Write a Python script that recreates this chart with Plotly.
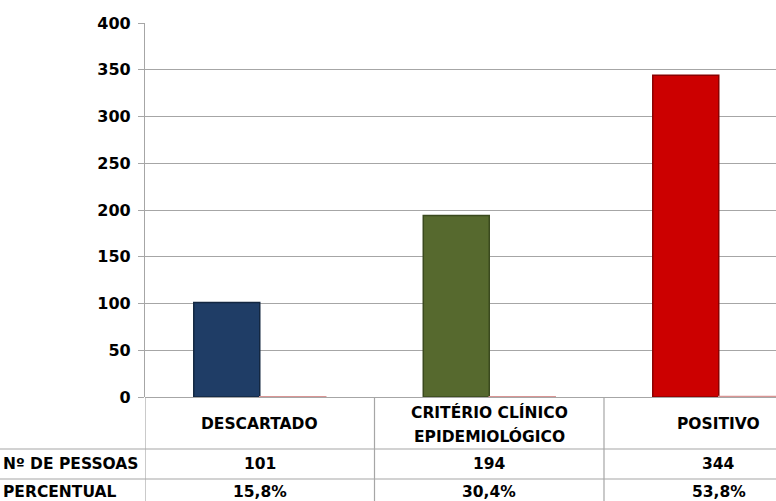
import plotly.graph_objects as go

categories = ["DESCARTADO", "CRITÉRIO CLÍNICO<br>EPIDEMIOLÓGICO", "POSITIVO"]
pessoas = [101, 194, 344]
percentual = [0.158, 0.304, 0.538]
row_labels = ["Nº DE PESSOAS", "PERCENTUAL"]
bar_colors = ["#1F3D66", "#56692E", "#CC0000"]
bar_edges = ["#132741", "#3A4A1E", "#8A0000"]
pink = "#D99594"
grid = "#A6A6A6"

W, H = 776, 501
L, T, B = 145, 23, 104
plot_h = H - T - B
cat_w = 229.5
x_hi = -0.5 + (W - L) / cat_w

FONT = "DejaVu Sans"
FS = 15.5

fig = go.Figure()
xs = list(range(len(categories)))
fig.add_trace(go.Bar(x=xs, y=pessoas, marker=dict(color=bar_colors, line=dict(color=bar_edges, width=1.5)),
                     showlegend=False, hoverinfo="y"))
fig.add_trace(go.Bar(x=xs, y=percentual, marker=dict(color=pink, line=dict(color=pink, width=1.5)),
                     showlegend=False, hoverinfo="y"))

def py(px):
    # pixel below the zero line -> paper y
    return -(px - (H - B)) / plot_h

shapes = []
for xv in [-0.5, 0.5, 1.5]:
    shapes.append(dict(type="line", xref="x", yref="paper", x0=xv, x1=xv, y0=0, y1=py(H + 5),
                       line=dict(color=grid, width=1.2)))
for yp in [449, 479]:
    shapes.append(dict(type="line", xref="paper", yref="paper", x0=-L / (W - L), x1=1, y0=py(yp), y1=py(yp),
                       line=dict(color=grid, width=1.2)))

annotations = []
for i, c in enumerate(categories):
    lines = c.split("<br>")
    n = len(lines)
    for k, ln in enumerate(lines):
        yc = 424 + (k - (n - 1) / 2) * 24
        annotations.append(dict(x=i, y=py(yc), xref="x", yref="paper", text=f"<b>{ln}</b>", showarrow=False,
                                font=dict(family=FONT, size=FS, color="#000"), yanchor="middle", xanchor="center"))
    annotations.append(dict(x=i, y=py(464), xref="x", yref="paper", text=f"<b>{pessoas[i]}</b>", showarrow=False,
                            font=dict(family=FONT, size=FS, color="#000"), yanchor="middle"))
    pct = f"{percentual[i]*100:.1f}".replace(".", ",") + "%"
    annotations.append(dict(x=i, y=py(492), xref="x", yref="paper", text=f"<b>{pct}</b>", showarrow=False,
                            font=dict(family=FONT, size=FS, color="#000"), yanchor="middle"))
for lab, yp in zip(row_labels, [464, 492]):
    annotations.append(dict(x=-(L - 1) / (W - L), y=py(yp), xref="paper", yref="paper", text=f"<b>{lab}</b>",
                            showarrow=False, xanchor="left", yanchor="middle",
                            font=dict(family=FONT, size=FS, color="#000")))

fig.update_layout(
    width=W, height=H,
    margin=dict(l=L, r=0, t=T, b=B),
    paper_bgcolor="white", plot_bgcolor="white",
    barmode="group", bargap=0.425, bargroupgap=0,
    shapes=shapes, annotations=annotations,
    xaxis=dict(range=[-0.5, x_hi], showticklabels=False, showgrid=False, zeroline=False, showline=False,
               ticks=""),
    yaxis=dict(range=[0, 400], dtick=50, showgrid=True, gridcolor=grid, gridwidth=1.2,
               showline=True, linecolor=grid, linewidth=1.2, ticks="outside", ticklen=6, tickcolor=grid,
               zeroline=True, zerolinecolor=grid, zerolinewidth=1.2, ticklabelstandoff=4,
               tickfont=dict(family=FONT, size=16, color="#000", weight="bold")),
)

fig.write_html("out.html")
